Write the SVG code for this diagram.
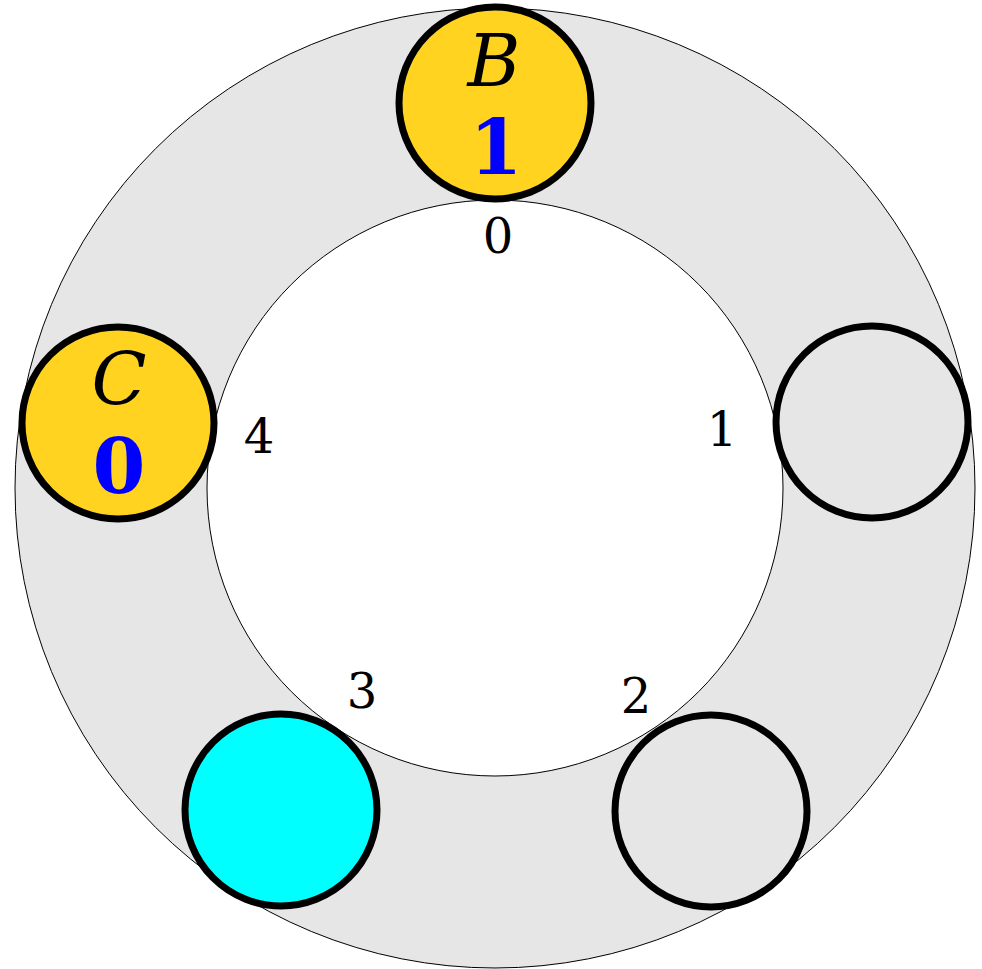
<svg xmlns="http://www.w3.org/2000/svg" width="982" height="969" viewBox="0 0 982 969">
<style>
.node{stroke:#000;stroke-width:7}
.y{fill:#FFD320}
.g{fill:#E6E6E6}
.c{fill:#00FFFF}
.lbl{font-family:"DejaVu Serif",serif;font-size:48px;fill:#000;text-anchor:middle}
.name{font-family:"DejaVu Serif",serif;font-style:italic;font-size:72px;fill:#000;text-anchor:middle}
.val{font-family:"DejaVu Serif",serif;font-weight:bold;font-size:76px;fill:#0000FF;text-anchor:middle}
</style>
<rect width="982" height="969" fill="#fff"/>
<g id="ring">
<circle cx="495" cy="488" r="480" fill="#E6E6E6" stroke="#000" stroke-width="1"/>
<circle cx="495" cy="488" r="288" fill="#fff" stroke="#000" stroke-width="1"/>
</g>
<g id="labels">
<text class="lbl" x="498" y="253">0</text>
<text class="lbl" x="722" y="446">1</text>
<text class="lbl" x="636" y="713">2</text>
<text class="lbl" x="362" y="708">3</text>
<text class="lbl" x="259" y="453">4</text>
</g>
<g id="nodeB">
<circle class="node y" cx="495" cy="103" r="96"/>
<text class="name" x="494" y="86">B</text>
<text class="val" x="496" y="174">1</text>
</g>
<g id="node1">
<circle class="node g" cx="872" cy="422" r="96"/>
</g>
<g id="node2">
<circle class="node g" cx="711" cy="811" r="96"/>
</g>
<g id="node3">
<circle class="node c" cx="281" cy="810" r="96"/>
</g>
<g id="nodeC">
<circle class="node y" cx="118" cy="423" r="96"/>
<text class="name" x="119" y="405">C</text>
<text class="val" x="119" y="493">0</text>
</g>
<g id="connectors"></g>
</svg>
